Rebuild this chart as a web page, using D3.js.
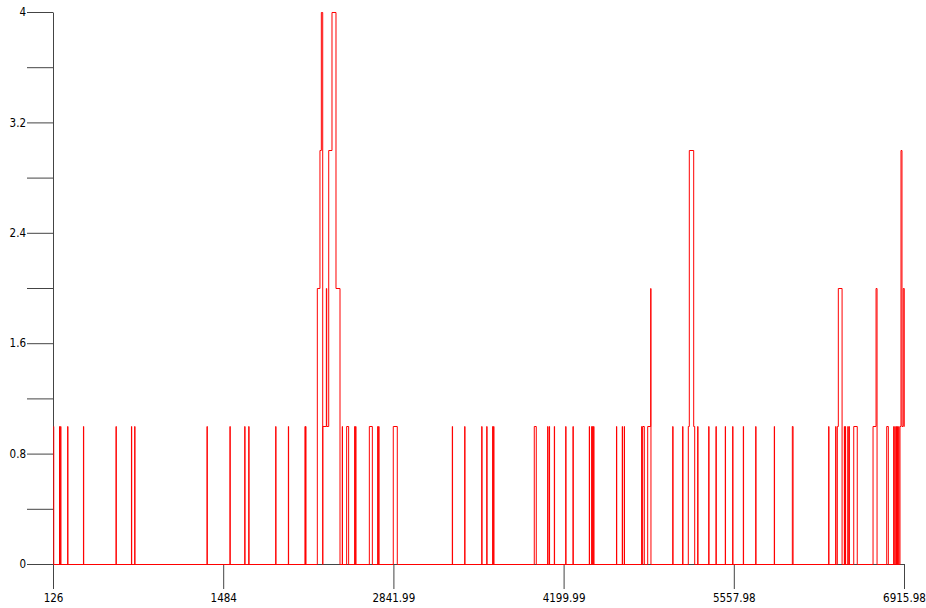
<!DOCTYPE html>
<html>
<head>
<meta charset="utf-8">
<script src="https://cdn.jsdelivr.net/npm/d3@7"></script>
<style>
  html, body { margin: 0; padding: 0; background: #fff; }
  svg { display: block; }
  .axis text { font-family: "DejaVu Sans Condensed", "DejaVu Sans", sans-serif; font-size: 11.5px; fill: #000; }
  .axis path, .axis line { stroke: #444; }
</style>
</head>
<body>
<svg id="chart" width="926" height="608"></svg>
<script>
// ---- data (step points) ----
const xs = [
  126,128, 174,176, 183,185, 239,241, 365,367, 625,627, 748,750, 774,776,
  1351,1353, 1534,1536, 1652,1654, 1684,1686, 1899,1901, 2000,2002,
  2133,2135, 2138,2140,
  2231,2252,2263,2274,2275,2303,2306,2322,2348,2380,2412,
  2430,2432, 2465,2481, 2529,2531, 2537,2539, 2646,2670, 2713,2715, 2721,2723, 2837,2869,
  3308,3310, 3407,3409, 3543,3545, 3583,3585, 3630,3632, 3638,3640,
  3962,3978, 4069,4071, 4082,4084, 4122,4124, 4213,4215, 4271,4273,
  4401,4403, 4420,4422, 4428,4430, 4436,4438, 4618,4620, 4664,4666, 4680,4682,
  4819,4821, 4827,4840, 4867,4891,4893,
  5067,5069, 5146,5148, 5191,5199,5234,5242, 5266,5268, 5354,5356, 5412,5414,
  5486,5488, 5545,5547, 5630,5632, 5729,5731, 5877,5879, 6021,6027,
  6311,6313, 6367,6369, 6380,6388,6418, 6436,6438, 6444,6446, 6464,6466, 6474,6476,
  6511,6539, 6665,6689,6697, 6774,6787,
  6830,6831, 6840,6841, 6851,6852, 6859,6860, 6870,6871,
  6880,6888,6896,6906,6914,6915.98
];
const ys = [
  1,0, 1,0, 1,0, 1,0, 1,0, 1,0, 1,0, 1,0,
  1,0, 1,0, 1,0, 1,0, 1,0, 1,0,
  1,0, 1,0,
  2,3,4,0,1,2,1,3,4,2,0,
  1,0, 1,0, 1,0, 1,0, 1,0, 1,0, 1,0, 1,0,
  1,0, 1,0, 1,0, 1,0, 1,0, 1,0,
  1,0, 1,0, 1,0, 1,0, 1,0, 1,0,
  1,0, 1,0, 1,0, 1,0, 1,0, 1,0, 1,0,
  1,0, 1,0, 1,2,0,
  1,0, 1,0, 1,3,1,0, 1,0, 1,0, 1,0,
  1,0, 1,0, 1,0, 1,0, 1,0, 1,0,
  1,0, 1,0, 1,2,0, 1,0, 1,0, 1,0, 1,0,
  1,0, 1,2,0, 1,0,
  1,0, 1,0, 1,0, 1,0, 1,0,
  1,3,1,2,1,1
];
const xTickValues = [126, 1484, 2841.99, 4199.99, 5557.98, 6915.98];
const xTickLabels = ["126", "1484", "2841.99", "4199.99", "5557.98", "6915.98"];
const yTickValues = [0, 0.4, 0.8, 1.2, 1.6, 2, 2.4, 2.8, 3.2, 3.6, 4];
const yTickLabels = ["0", "", "0.8", "", "1.6", "", "2.4", "", "3.2", "", "4"];

// ---- chart ----
const svg = d3.select("#chart");
const x = d3.scaleLinear().domain([126, 6915.98]).range([53, 904]);
const y = d3.scaleLinear().domain([0, 4]).range([564, 12]);

svg.append("g")
  .attr("class", "axis")
  .attr("transform", "translate(53,0)")
  .call(d3.axisLeft(y).tickValues(yTickValues).tickSize(26).tickSizeOuter(0).tickPadding(1)
    .tickFormat((d, i) => yTickLabels[i]));

svg.append("g")
  .attr("class", "axis")
  .attr("transform", "translate(0,564)")
  .call(d3.axisBottom(x).tickValues(xTickValues).tickSize(25).tickSizeOuter(0).tickPadding(5)
    .tickFormat((d, i) => xTickLabels[i]));

const pts = xs.map((v, i) => [v, ys[i]]);
const line = d3.line()
  .x(d => x(d[0]))
  .y(d => y(d[1]))
  .curve(d3.curveStepAfter);

svg.append("g")
  .attr("transform", "translate(0.5,0.5)")
  .append("path")
  .datum(pts)
  .attr("fill", "none")
  .attr("stroke", "#ff0000")
  .attr("stroke-width", 1)
  .attr("d", line);
</script>
</body>
</html>
